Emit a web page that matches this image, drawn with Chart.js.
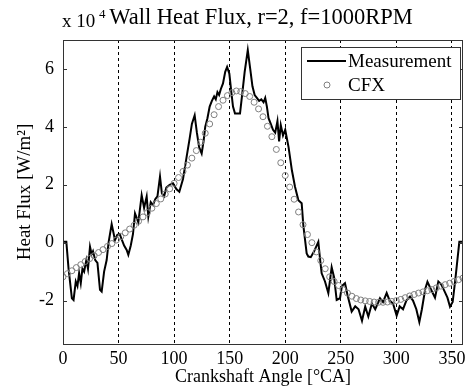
<!DOCTYPE html>
<html>
<head>
<meta charset="utf-8">
<script src="https://cdn.jsdelivr.net/npm/chart.js@4/dist/chart.umd.min.js"></script>
<style>
    html, body { margin: 0; padding: 0; background: #fff; }
    #heat-flux-canvas { display: block; }
</style>
</head>
<body>
<canvas id="heat-flux-canvas" width="471" height="390"></canvas>
<script>
const measAngle = [0, 3, 5, 8, 9.5, 11.5, 13, 14.5, 16, 17.5, 19, 21, 22.5, 24.3, 25.8, 27, 29, 31, 33.3, 34.8,
    37, 39.3, 41, 43.8, 46.8, 48.9, 51, 53, 55, 57.3, 58.8, 61, 63, 64.8, 67.8, 70.8, 73, 75.3, 76.8, 79,
    81, 83, 85, 87.3, 89, 91, 93, 96, 99, 102, 104.7, 108, 111, 114, 116, 118.5, 120.5, 122.5, 124.8, 126.5,
    128, 130, 132, 134, 136, 137.5, 139, 140.5, 142, 144, 146, 147.7, 149.7, 151.5, 153, 154.8, 159.3, 161.5, 163.5, 166.3,
    168.5, 170.5, 172.5, 174.5, 176.5, 178.5, 180.5, 182, 183.5, 185, 187, 189, 191, 193, 194.5, 196, 198, 200, 201.5, 203,
    206, 208.8, 211.8, 214.8, 216.3, 219.3, 220.8, 223, 226, 229.8, 231.3, 232.8, 235.8, 238.8, 241.8, 244, 246.3, 249.3, 251, 253.8,
    256, 259.8, 263, 266, 269.1, 272, 274.8, 278, 281, 285.3, 288, 291.3, 294, 297, 300.3, 303, 306, 309, 312.3, 315,
    318, 320.7, 323, 326, 328, 331, 334.8, 337.8, 340.5, 343, 346, 348.3, 350.7, 353, 356.7, 360]

const measFlux = [0.03, 0.03, -0.9, -1.92, -1.98, -1.34, -1.5, -1.05, -1.4, -0.9, -1.0, -0.6, -0.9, -0.14, -0.4, -0.3, -0.6, -0.7, -1.63, -1.69,
    -1.0, -0.6, 0.0, 0.64, 0.09, 0.27, 0.3, 0.1, -0.1, -0.25, -0.42, -0.1, 0.3, 1.01, 0.7, 1.64, 1.2, 1.59, 0.9, 1.4,
    1.3, 1.5, 1.6, 2.28, 1.7, 1.6, 1.9, 2.0, 2.05, 1.85, 1.76, 2.2, 2.9, 3.6, 4.1, 4.4, 3.8, 3.3, 3.08, 3.5,
    4.0, 4.3, 4.7, 4.9, 5.05, 4.95, 5.2, 5.1, 5.3, 5.5, 5.9, 6.07, 5.84, 5.2, 4.7, 4.46, 4.46, 5.2, 5.9, 6.65,
    6.0, 5.4, 5.1, 5.0, 4.9, 4.95, 4.85, 5.0, 4.7, 4.3, 4.1, 3.9, 3.8, 4.2, 3.5, 4.06, 3.7, 3.9, 3.6, 3.3,
    2.5, 1.93, 1.47, 1.36, 0.6, -0.37, -0.48, -0.5, -0.3, 0.03, -0.55, -1.06, -1.34, -1.74, -0.85, -1.2, -1.98, -1.92, -1.5, -1.4,
    -1.8, -2.38, -2.2, -2.3, -2.7, -2.21, -2.55, -2.1, -2.3, -1.92, -2.05, -1.74, -2.0, -2.1, -2.52, -2.2, -2.3, -2.0, -1.86, -2.0,
    -2.3, -2.74, -2.3, -1.6, -1.35, -1.6, -1.9, -1.34, -1.45, -1.65, -1.9, -2.21, -2.05, -1.3, 0.03, 0.03]

const cfxAngle = [0, 4, 8, 12, 16, 20, 24, 28, 32, 36, 40, 44, 48, 52, 56, 60, 64, 68, 72, 76,
    80, 84, 88, 92, 96, 100, 104, 108, 112, 116, 120, 124, 128, 132, 136, 140, 144, 148, 152, 156,
    160, 164, 168, 172, 176, 180, 184, 188, 192, 196, 200, 204, 208, 212, 216, 220, 224, 228, 232, 236,
    240, 244, 248, 252, 256, 260, 264, 268, 272, 276, 280, 284, 288, 292, 296, 300, 304, 308, 312, 316,
    320, 324, 328, 332, 336, 340, 344, 348, 352, 356, 360]

const cfxFlux = [-1.18, -1.07, -0.97, -0.86, -0.76, -0.65, -0.55, -0.45, -0.34, -0.24, -0.13, -0.03, 0.09, 0.21, 0.34, 0.47, 0.60, 0.74, 0.89, 1.04,
    1.19, 1.35, 1.51, 1.68, 1.86, 2.05, 2.25, 2.46, 2.68, 2.92, 3.18, 3.47, 3.78, 4.10, 4.42, 4.70, 4.92, 5.08, 5.18, 5.24,
    5.22, 5.15, 5.05, 4.85, 4.62, 4.35, 4.02, 3.66, 3.22, 2.76, 2.32, 1.92, 1.50, 1.06, 0.62, 0.28, 0.00, -0.32, -0.62, -0.90,
    -1.18, -1.34, -1.48, -1.62, -1.74, -1.85, -1.93, -1.98, -2.01, -2.03, -2.05, -2.06, -2.06, -2.05, -2.03, -2.00, -1.96, -1.90, -1.84, -1.79,
    -1.74, -1.70, -1.66, -1.62, -1.56, -1.50, -1.45, -1.40, -1.34, -1.28, -1.22]

const xTicks = [0, 50, 100, 150, 200, 250, 300, 350]
const yTicks = [-2, 0, 2, 4, 6]

const chartTitle = "Wall Heat Flux, r=2, f=1000RPM"
const xTitle = "Crankshaft Angle [°CA]"
const yTitle = "Heat Flux [W/m²]"
const seriesNames = ["Measurement", "CFX"]

const serif = "'Liberation Serif', 'Times New Roman', serif"
const cfxColor = "#808080"

// box, inward ticks, title, exponent and legend (MATLAB look)
const matlabDecor = {
    id: "matlabDecor",
    afterDraw(chart) {
        const {ctx, chartArea: a, scales} = chart
        ctx.save()

        ctx.strokeStyle = "#333"
        ctx.lineWidth = 1
        ctx.setLineDash([])
        ctx.strokeRect(a.left + 0.5, a.top + 0.5, a.right - a.left - 1, a.bottom - a.top)

        ctx.beginPath()
        yTicks.forEach(v => {
            const py = Math.round(scales.y.getPixelForValue(v)) + 0.5
            ctx.moveTo(a.left, py); ctx.lineTo(a.left + 4, py)
            ctx.moveTo(a.right, py); ctx.lineTo(a.right - 4, py)
        })
        ctx.stroke()

        ctx.fillStyle = "#000"
        ctx.textBaseline = "alphabetic"
        ctx.textAlign = "center"
        ctx.font = "22.5px " + serif
        ctx.fillText(chartTitle, 261, 24)

        ctx.textAlign = "left"
        ctx.font = "19px " + serif
        ctx.fillText("x 10", 62, 27)
        ctx.font = "13px " + serif
        ctx.fillText("4", 99, 18)

        // legend box
        const lx = 301, ly = 47, lw = 159, lh = 52
        ctx.fillStyle = "#fff"
        ctx.fillRect(lx, ly, lw, lh)
        ctx.strokeStyle = "#333"
        ctx.strokeRect(lx + 0.5, ly + 0.5, lw, lh)

        ctx.strokeStyle = "#000"
        ctx.lineWidth = 2
        ctx.beginPath()
        ctx.moveTo(307, 61); ctx.lineTo(346, 61)
        ctx.stroke()

        ctx.strokeStyle = cfxColor
        ctx.lineWidth = 1
        ctx.beginPath()
        ctx.arc(327, 85, 3, 0, Math.PI * 2)
        ctx.stroke()

        ctx.fillStyle = "#000"
        ctx.font = "19px " + serif
        ctx.fillText(seriesNames[0], 348, 67)
        ctx.fillText(seriesNames[1], 348, 91)

        ctx.restore()
    }
}

const heatFluxCanvas = document.querySelector("#heat-flux-canvas")

const heatFluxChart = new Chart(heatFluxCanvas, {
    type: "line",
    data: {
        datasets: [{
            label: seriesNames[0],
            data: measAngle.map((a, i) => ({x: a, y: measFlux[i]})),
            borderColor: "#000",
            borderWidth: 2,
            pointRadius: 0,
            tension: 0,
            fill: false,
            order: 1,
        }, {
            label: seriesNames[1],
            data: cfxAngle.map((a, i) => ({x: a, y: cfxFlux[i]})),
            showLine: false,
            pointStyle: "circle",
            pointRadius: 3,
            borderWidth: 1,
            borderColor: cfxColor,
            backgroundColor: "rgba(0,0,0,0)",
            order: 0,
        }]
    },
    options: {
        responsive: false,
        devicePixelRatio: 1,
        animation: false,
        layout: {padding: {top: 40, right: 8, left: 0, bottom: 0}},
        plugins: {
            legend: {display: false},
            tooltip: {enabled: false},
        },
        scales: {
            x: {
                type: "linear",
                min: 0,
                max: 360,
                afterBuildTicks: s => { s.ticks = xTicks.map(v => ({value: v})) },
                afterFit: s => { s.height = 46 },
                ticks: {color: "#000", font: {family: serif, size: 18}, padding: 4, maxRotation: 0},
                grid: {color: "#000", lineWidth: 1, drawTicks: false},
                border: {display: false, dash: [3, 3]},
                title: {display: true, text: xTitle, color: "#000", font: {family: serif, size: 18}, padding: {top: 0, bottom: 2}},
            },
            y: {
                type: "linear",
                min: -3.5,
                max: 7,
                afterBuildTicks: s => { s.ticks = yTicks.map(v => ({value: v})) },
                afterFit: s => { s.width = 63 },
                ticks: {color: "#000", font: {family: serif, size: 18}, padding: 9},
                grid: {display: false, drawTicks: false},
                border: {display: false},
                title: {display: true, text: yTitle, color: "#000", font: {family: serif, size: 19}, padding: {top: 14, bottom: 0}},
            }
        }
    },
    plugins: [matlabDecor]
})
</script>
</body>
</html>
